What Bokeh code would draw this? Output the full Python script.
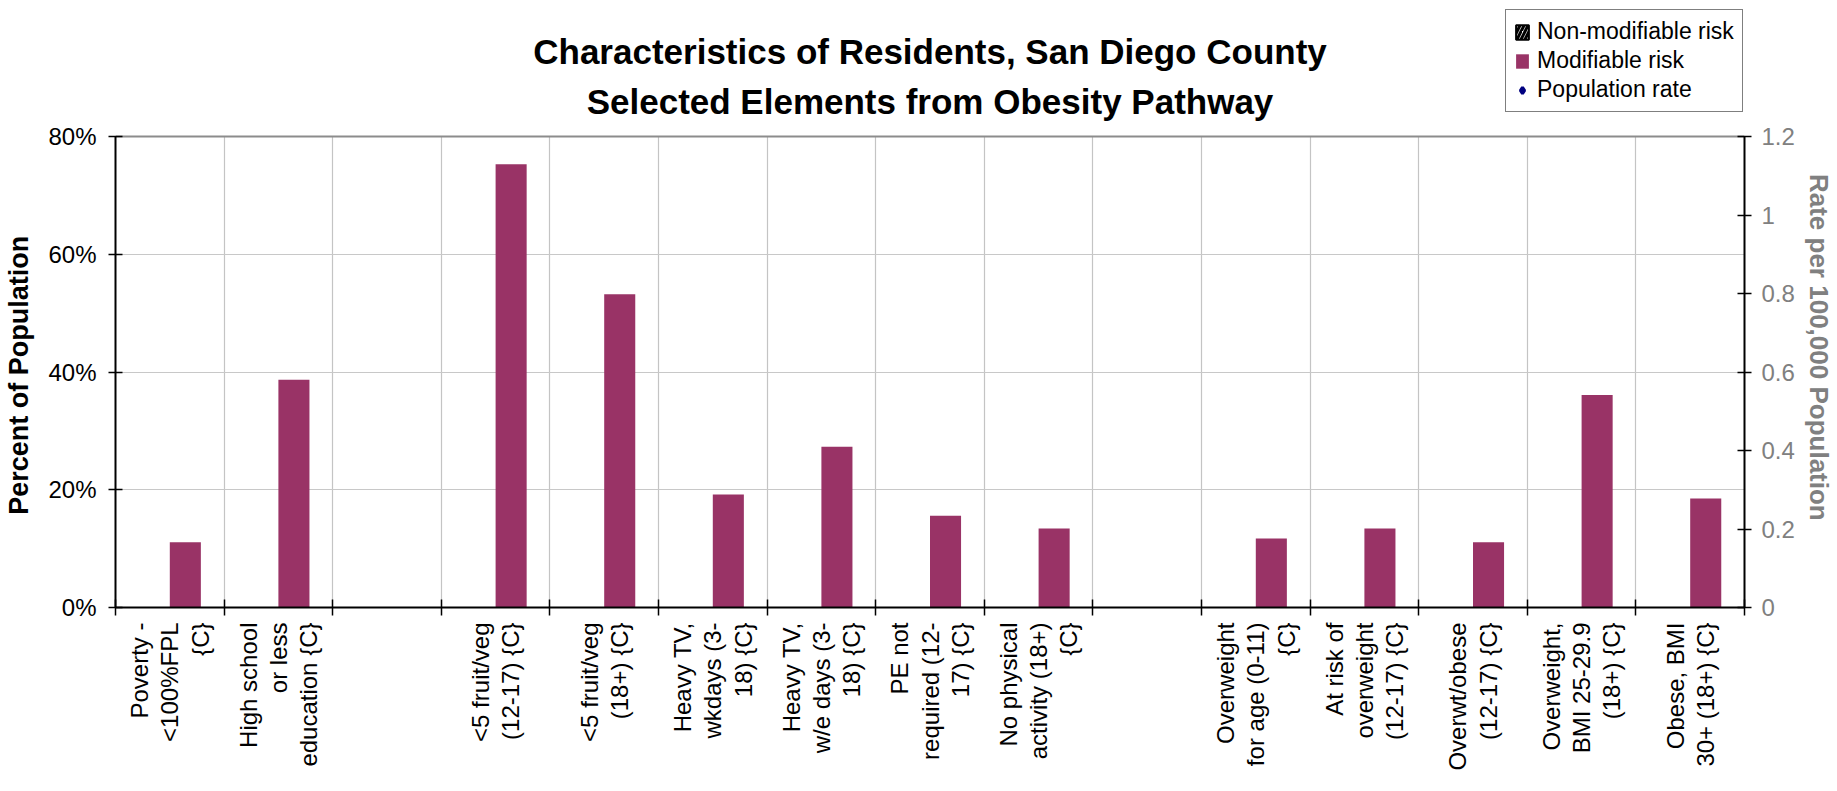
import math
from bokeh.plotting import figure
from bokeh.models import (ColumnDataSource, Range1d, LinearAxis, FixedTicker, Grid, Label,
                          NumeralTickFormatter, PrintfTickFormatter, Legend, LegendItem)
from bokeh.embed import file_html
from bokeh.resources import INLINE

# ---------------- data ----------------
categories = [
    "Poverty -\n<100%FPL\n{C}",
    "High school\nor less\neducation {C}",
    "",
    "<5 fruit/veg\n(12-17) {C}",
    "<5 fruit/veg\n(18+) {C}",
    "Heavy TV,\nwkdays (3-\n18) {C}",
    "Heavy TV,\nw/e days (3-\n18) {C}",
    "PE not\nrequired (12-\n17) {C}",
    "No physical\nactivity (18+)\n{C}",
    "",
    "Overweight\nfor age (0-11)\n{C}",
    "At risk of\noverweight\n(12-17) {C}",
    "Overwt/obese\n(12-17) {C}",
    "Overweight,\nBMI 25-29.9\n(18+) {C}",
    "Obese, BMI\n30+ (18+) {C}",
]
# percent of population, modifiable risk (None = no bar)
modifiable_risk = [11.1, 38.7, None, 75.3, 53.2, 19.2, 27.3, 15.6, 13.4,
                   None, 11.7, 13.4, 11.1, 36.1, 18.5]
# series shown only in the legend: no values in this chart
non_modifiable_risk = [None] * len(categories)
population_rate = [None] * len(categories)

left_ticks = [0, 20, 40, 60, 80]
right_ticks = [0, 0.2, 0.4, 0.6, 0.8, 1.0, 1.2]
left_max = 80
right_max = 1.2

TITLE = "Characteristics of Residents, San Diego County\nSelected Elements from Obesity Pathway"
LEFT_LABEL = "Percent of Population"
RIGHT_LABEL = "Rate per 100,000 Population"
BAR_COLOR = "#993366"
FONT = "Liberation Sans"
NBSP = "\u00a0"


def as_float(seq):
    return [math.nan if v is None else v for v in seq]


# ---------------- layout constants (pixels) ----------------
W, H = 1836, 790
LEFT, RIGHT, BOTTOM = 115, 93, 183
PLOT_TOP = 136            # where the 80% line sits
frame_h = H - BOTTOM
frame_w = W - LEFT - RIGHT
scale_ext = frame_h / (frame_h - PLOT_TOP)

n = len(categories)
centers = [i + 0.5 for i in range(n)]
boundaries = list(range(n + 1))
bar_w = 0.286
x_bar = [c + bar_w / 2 for c in centers]
x_non = [c - bar_w / 2 for c in centers]

xs = [x for x, v in zip(x_bar, modifiable_risk) if v is not None]
vals = [v for v in modifiable_risk if v is not None]
src = ColumnDataSource(data=dict(x=xs, value=vals))

p = figure(width=W, height=H, x_range=Range1d(0, n),
           y_range=Range1d(0, left_max * scale_ext),
           output_backend="svg", toolbar_location=None, title=None,
           min_border_left=LEFT, min_border_top=0, min_border_right=0,
           min_border_bottom=BOTTOM)
p.background_fill_color = "white"
p.border_fill_color = "white"
p.outline_line_color = None

# x axis: labels at centers, tick marks at boundaries
xa = p.xaxis[0]
xa.ticker = FixedTicker(ticks=centers, minor_ticks=boundaries)
xa.major_label_overrides = {c: lab for c, lab in zip(centers, categories)}
xa.major_label_orientation = math.pi / 2
xa.major_label_text_font = FONT
xa.major_label_text_font_size = "24px"
xa.major_label_text_line_height = 1.12
xa.major_label_text_color = "black"
xa.major_label_standoff = 7
xa.major_tick_in = 0
xa.major_tick_out = 0
xa.minor_tick_in = 8
xa.minor_tick_out = 8
xa.minor_tick_line_color = "black"
xa.minor_tick_line_width = 1.5
xa.axis_line_color = "black"
xa.axis_line_width = 2

# left axis (label padded so it centres on the 0-80% span)
ya = p.yaxis[0]
ya.bounds = (0, left_max)
ya.ticker = FixedTicker(ticks=left_ticks)
ya.formatter = PrintfTickFormatter(format="%d%%")
ya.minor_tick_line_color = None
ya.major_tick_in = 7
ya.major_tick_out = 7
ya.major_tick_line_color = "black"
ya.major_tick_line_width = 1.5
ya.axis_line_color = "black"
ya.axis_line_width = 2
ya.major_label_text_font = FONT
ya.major_label_text_font_size = "24px"
ya.major_label_text_color = "black"
ya.major_label_standoff = 12
ya.axis_label = LEFT_LABEL + NBSP * 19
ya.axis_label_text_font = FONT
ya.axis_label_text_font_size = "27px"
ya.axis_label_text_font_style = "bold"
ya.axis_label_text_color = "black"
ya.axis_label_standoff = 11

# right axis (label padded so it centres on the 0-1.2 span)
p.extra_y_ranges = {"rate": Range1d(0, right_max * scale_ext)}
ra = LinearAxis(y_range_name="rate", ticker=FixedTicker(ticks=right_ticks),
                formatter=NumeralTickFormatter(format="0.[0]"), bounds=(0, right_max))
ra.minor_tick_line_color = None
ra.major_tick_in = 7
ra.major_tick_out = 7
ra.major_tick_line_color = "black"
ra.major_tick_line_width = 1.5
ra.axis_line_color = "black"
ra.axis_line_width = 2
ra.major_label_text_font = FONT
ra.major_label_text_font_size = "24px"
ra.major_label_text_color = "#808080"
ra.major_label_standoff = 10
ra.axis_label = NBSP * 12 + RIGHT_LABEL
ra.axis_label_text_font = FONT
ra.axis_label_text_font_size = "26px"
ra.axis_label_text_font_style = "bold"
ra.axis_label_text_color = "#808080"
ra.axis_label_standoff = 6
p.add_layout(ra, "right")

# grids
p.ygrid.ticker = FixedTicker(ticks=left_ticks[:-1])
p.ygrid.grid_line_color = "#c8c8c8"
p.ygrid.grid_line_width = 1.2
top_grid = Grid(dimension=1, ticker=FixedTicker(ticks=[left_max]),
                grid_line_color="#8c8c8c", grid_line_width=2.2)
p.add_layout(top_grid)

p.xgrid.ticker = FixedTicker(ticks=boundaries)
p.xgrid.grid_line_color = "#c4c4c4"
p.xgrid.grid_line_width = 1.2
if "cross_bounds" in Grid.properties():
    p.xgrid.cross_bounds = (0, left_max)
else:
    p.xgrid.visible = False
    p.segment(x0=boundaries, x1=boundaries, y0=[0] * len(boundaries),
              y1=[left_max] * len(boundaries), line_color="#c4c4c4", line_width=1.2,
              level="underlay")

# series
r_non = p.vbar(x="x", top="value", width=bar_w, bottom=0,
               source=ColumnDataSource(data=dict(x=x_non, value=as_float(non_modifiable_risk))),
               fill_color="white", line_color="black", line_width=2,
               hatch_pattern="/", hatch_color="black", hatch_weight=3, hatch_scale=8)
r_mod = p.vbar(x="x", top="value", width=bar_w, bottom=0, source=src,
               fill_color=BAR_COLOR, line_color=None)
r_pop = p.scatter(x="x", y="value",
                  source=ColumnDataSource(data=dict(x=centers, value=as_float(population_rate))),
                  marker="diamond", size=14, fill_color="#000080", line_color="#000080",
                  line_width=3, y_range_name="rate")

# title (inside the plot area, above the 80% line)
title = Label(x=n / 2, x_units="data", y=frame_h - 76, y_units="screen",
              text=TITLE, text_align="center", text_baseline="middle",
              text_font=FONT, text_font_size="35px", text_font_style="bold",
              text_color="black", text_line_height=1.3)
p.add_layout(title)

legend = Legend(items=[LegendItem(label="Non-modifiable risk", renderers=[r_non]),
                       LegendItem(label="Modifiable risk", renderers=[r_mod]),
                       LegendItem(label="Population rate", renderers=[r_pop])],
                location=(frame_w - 238, frame_h - 112))
legend.label_text_font = FONT
legend.label_text_font_size = "23px"
legend.label_text_color = "black"
legend.glyph_width = 16
legend.glyph_height = 18
legend.label_standoff = 7
legend.padding = 8
legend.spacing = 2
legend.border_line_color = "black"
legend.border_line_width = 1.5
legend.background_fill_color = "white"
legend.background_fill_alpha = 1.0
legend.margin = 0
p.add_layout(legend)

open("out.html", "w").write(file_html(p, INLINE))
